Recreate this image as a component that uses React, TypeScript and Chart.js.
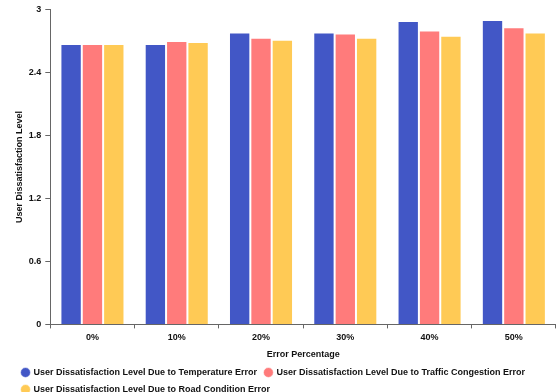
import React, { useEffect, useRef } from "react";
import { Chart, registerables } from "chart.js";

Chart.register(...registerables);

const categories = ["0%", "10%", "20%", "30%", "40%", "50%"];
const temperatureError = [2.67, 2.67, 2.78, 2.78, 2.89, 2.9];
const trafficError = [2.67, 2.7, 2.73, 2.77, 2.8, 2.83];
const roadError = [2.67, 2.69, 2.71, 2.73, 2.75, 2.78];
const yTicks = [0, 0.6, 1.2, 1.8, 2.4, 3];

const FONT = "'Liberation Sans', Arial, sans-serif";

export default function App() {
  const canvasRef = useRef<HTMLCanvasElement | null>(null);

  useEffect(() => {
    document.body.style.margin = "0";
    const canvas = canvasRef.current;
    if (!canvas) return;
    const bar = (label: string, data: number[], color: string) => ({
      label,
      data,
      backgroundColor: color,
      borderColor: "rgba(255,255,255,0.6)",
      borderWidth: 1,
      barPercentage: 1,
      categoryPercentage: 0.76,
    });
    const chart = new Chart(canvas, {
      type: "bar",
      data: {
        labels: categories,
        datasets: [
          bar("User Dissatisfaction Level Due to Temperature Error", temperatureError, "#4257C6"),
          bar("User Dissatisfaction Level Due to Traffic Congestion Error", trafficError, "#FF7B7B"),
          bar("User Dissatisfaction Level Due to Road Condition Error", roadError, "#FFCA55"),
        ],
      },
      options: {
        animation: false,
        responsive: false,
        maintainAspectRatio: false,
        layout: { padding: { top: 6, right: 0, left: 14, bottom: 0 } },
        plugins: {
          tooltip: { enabled: false },
          legend: {
            position: "bottom",
            align: "start",
            labels: {
              usePointStyle: true,
              pointStyle: "circle",
              boxWidth: 7,
              boxHeight: 7,
              padding: 8,
              color: "#111",
              font: { family: FONT, size: 9, weight: "bold" },
            },
          },
        },
        scales: {
          x: {
            grid: {
              display: true,
              drawOnChartArea: false,
              offset: true,
              tickLength: 4,
              color: "#666",
            },
            border: { color: "#666", width: 1 },
            ticks: {
              color: "#111",
              padding: 4,
              font: { family: FONT, size: 9, weight: "bold" },
            },
            title: {
              display: true,
              text: "Error Percentage",
              color: "#111",
              padding: { top: 2, bottom: 0 },
              font: { family: FONT, size: 9, weight: "bold" },
            },
          },
          y: {
            min: 0,
            max: 3,
            afterBuildTicks: (axis: any) => {
              axis.ticks = yTicks.map((v) => ({ value: v }));
            },
            grid: {
              display: true,
              drawOnChartArea: false,
              tickLength: 5,
              color: "#666",
            },
            border: { color: "#666", width: 1 },
            ticks: {
              color: "#111",
              padding: 4,
              font: { family: FONT, size: 9, weight: "bold" },
              callback: (v: any) => String(Math.round(Number(v) * 10) / 10),
            },
            title: {
              display: true,
              text: "User Dissatisfaction Level",
              color: "#111",
              padding: { top: 0, bottom: 0 },
              font: { family: FONT, size: 9, weight: "bold" },
            },
          },
        },
      },
    });
    return () => chart.destroy();
  }, []);

  return (
    <div style={{ position: "relative", width: 556, height: 392, overflow: "hidden" }}>
      <canvas ref={canvasRef} width={556} height={404} style={{ display: "block" }} />
    </div>
  );
}
